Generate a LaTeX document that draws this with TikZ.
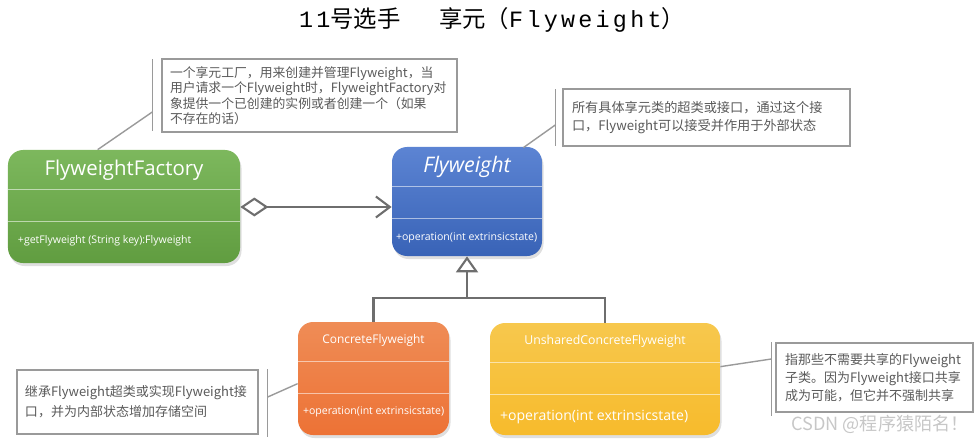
\documentclass[tikz,border=0pt]{standalone}
\usepackage{fontspec}
\setmainfont{Noto Sans CJK SC}
\newfontfamily\clsfont{Open Sans}
\newfontfamily\ttlmono{Liberation Mono}[LetterSpace=14]
\usetikzlibrary{arrows.meta,calc,shadows}

\definecolor{factgreen}{HTML}{6BAE47}
\definecolor{flyblue}{HTML}{3F6ECB}
\definecolor{concorange}{HTML}{EC7838}
\definecolor{unshyellow}{HTML}{F6BE2E}
\definecolor{linegray}{HTML}{6E6E6E}
\definecolor{notegray}{HTML}{9A9A9A}
\definecolor{notetext}{HTML}{5A5A5A}

\tikzset{
  classbox/.style={rounded corners=3mm, inner sep=0pt,
    drop shadow={shadow xshift=0.3mm, shadow yshift=-0.6mm, opacity=.25}},
  clstitle/.style={inner sep=0pt, text=white, font=\clsfont\fontsize{11.6}{13}\selectfont},
  clsmeth/.style={inner sep=0pt, anchor=west, text=white, font=\clsfont\fontsize{6}{7}\selectfont},
  divider/.style={draw=white, opacity=.55, line width=0.5pt},
  note/.style={draw=notegray, line width=0.8pt, fill=white, align=left,
    text=notetext, inner ysep=0pt},
  lead/.style={draw=notegray, line width=0.8pt},
  assoc/.style={draw=linegray, line width=1.4pt,
    {Diamond[open, length=5.6mm, width=3.8mm, line width=1.2pt]}-{Straight Barb[length=2.8mm, width=4.2mm, line width=1.2pt]}},
  gen/.style={draw=linegray, line width=1.4pt},
}

\begin{document}
\begin{tikzpicture}[x=0.2mm, y=-0.2mm]
\useasboundingbox (0,0) rectangle (979,441);

% title
\node[inner sep=0pt, font=\fontsize{13.3}{15}\selectfont] (ttl) at (492,20)
  {{\ttlmono 11}号选手\hspace{22pt}享元（{\ttlmono Flyweight}）};

% classes
\node[classbox, top color=factgreen!88!white, bottom color=factgreen!90!black,
  minimum width=46.4mm, minimum height=22.6mm] (factory) at (124,206.5) {};
\node[classbox, top color=flyblue!85!white, bottom color=flyblue!90!black,
  minimum width=30mm, minimum height=21.8mm] (fly) at (467,201.5) {};
\node[classbox, top color=concorange!85!white, bottom color=concorange!95!red,
  minimum width=30.2mm, minimum height=22.6mm] (conc) at (373.5,378.5) {};
\node[classbox, top color=unshyellow!85!white, bottom color=unshyellow!95!orange,
  minimum width=46mm, minimum height=22.4mm] (unsh) at (605,379) {};

\foreach \b in {factory,fly,conc,unsh} {
  \draw[divider] ($(\b.north west)+(0,40)$) -- ($(\b.north east)+(0,40)$);
  \draw[divider] ($(\b.north west)+(0,72)$) -- ($(\b.north east)+(0,72)$);
}

\node[clstitle] (factory-t) at ($(factory.north)+(0,21)$) {FlyweightFactory};
\node[clstitle, font=\clsfont\itshape\fontsize{12.2}{14}\selectfont] (fly-t) at ($(fly.north)+(0,20)$) {Flyweight};
\node[clstitle, font=\clsfont\fontsize{6.8}{8}\selectfont] (conc-t) at ($(conc.north)+(0,19)$) {ConcreteFlyweight};
\node[clstitle, font=\clsfont\fontsize{7}{8}\selectfont] (unsh-t) at ($(unsh.north)+(0,19)$) {UnsharedConcreteFlyweight};

\node[clsmeth] (factory-m) at ($(factory.south west)+(10,-23)$) {+getFlyweight (String key):Flyweight};
\node[clsmeth] (fly-m) at ($(fly.south west)+(4,-18)$) {+operation(int extrinsicstate)};
\node[clsmeth] (conc-m) at ($(conc.south west)+(5,-23)$) {+operation(int extrinsicstate)};
\node[clsmeth, font=\clsfont\fontsize{8}{9}\selectfont] (unsh-m) at ($(unsh.south west)+(10,-18)$) {+operation(int extrinsicstate)};

% relations
\draw[assoc] (factory.east |- 0,207) -- (fly.west |- 0,207);
\coordinate (bus) at (fly.south |- 0,298);
\draw[gen, -{Triangle[open, length=3.2mm, width=4.4mm, line width=1.2pt]}] (conc.north) |- (bus) -- (fly.south);
\draw[gen] (unsh.north) |- (bus);

% notes
\node[note, minimum width=59mm, minimum height=14.6mm, inner xsep=1.6mm, text width=55.8mm,
  font=\fontsize{7.3}{8.8}\selectfont] (note1) at (309.5,95.5)
  {一个享元工厂，用来创建并管理Flyweight，当\\用户请求一个Flyweight时，FlyweightFactory对\\象提供一个已创建的实例或者创建一个（如果\\不存在的话）};
\node[note, minimum width=57.4mm, minimum height=11.4mm, inner xsep=1.8mm, text width=53.8mm,
  font=\fontsize{7.5}{10.2}\selectfont] (note2) at (706.5,117.5)
  {所有具体享元类的超类或接口，通过这个接\\口，Flyweight可以接受并作用于外部状态};
\node[note, minimum width=48.2mm, minimum height=12.8mm, inner xsep=1.6mm, text width=45mm,
  font=\fontsize{7.4}{11.3}\selectfont] (note3) at (137.5,402)
  {继承Flyweight超类或实现Flyweight接\\口，并为内部状态增加存储空间};
\node[note, minimum width=39.4mm, minimum height=13.8mm, inner xsep=1.8mm, text width=35.8mm,
  font=\fontsize{7.4}{10.2}\selectfont] (note4) at (874.5,377.5)
  {指那些不需要共享的Flyweight\\子类。因为Flyweight接口共享\\成为可能，但它并不强制共享};

\draw[lead] ($(note1.north west)+(-9,1)$) -- ($(note1.south west)+(-9,-2)$);
\draw[lead] ($(note1.west)+(-9,16.5)$) -- ($(factory.north west)+(90,0)$);
\draw[lead] ($(note2.north west)+(-7,1)$) -- ($(note2.south west)+(-7,-1)$);
\draw[lead] ($(note2.west)+(-7,7.5)$) -- ($(fly.north east)+(-19,1)$);
\draw[lead] ($(note3.north east)+(9,0)$) -- ($(note3.south east)+(9,2)$);
\draw[lead] ($(note3.east)+(9,-5)$) -- ($(conc.north west)+(0,62)$);
\draw[lead] ($(note4.north west)+(-4,0)$) -- ($(note4.south west)+(-4,3)$);
\draw[lead] ($(note4.west)+(-4,-18.5)$) -- ($(unsh.north east)+(0,44)$);

% watermark
\node[inner sep=0pt, text=black!22, font=\fontsize{10.3}{12}\selectfont] (mark) at (880,424) {CSDN @程序猿陌名！};
\end{tikzpicture}
\end{document}
